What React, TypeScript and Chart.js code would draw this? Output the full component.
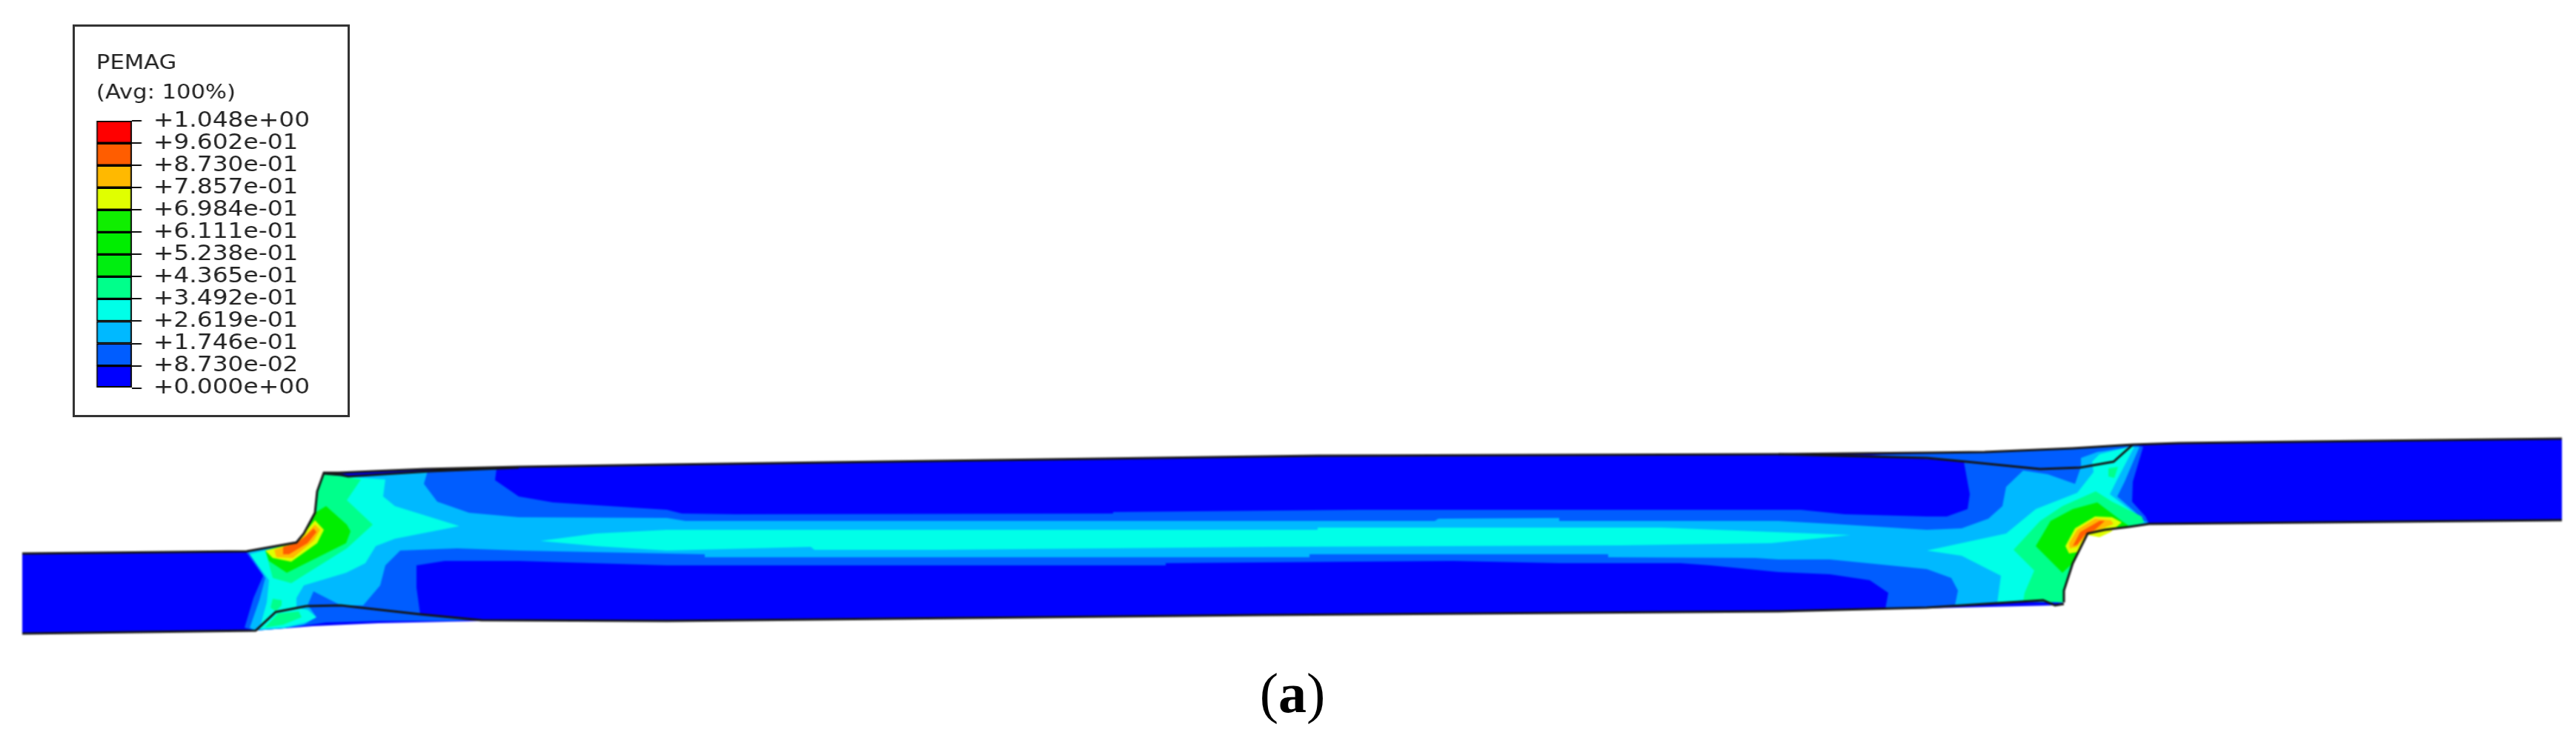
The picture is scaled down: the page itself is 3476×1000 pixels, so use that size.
import React, { useEffect, useRef } from "react";
import { Chart, registerables } from "chart.js";

Chart.register(...registerables);

type P = [number, number];

// legend
const levels = [0, 0.0873, 0.1746, 0.2619, 0.3492, 0.4365, 0.5238, 0.6111, 0.6984, 0.7857, 0.873, 0.9602, 1.048];
const levelLabels = ["+0.000e+00", "+8.730e-02", "+1.746e-01", "+2.619e-01", "+3.492e-01", "+4.365e-01", "+5.238e-01", "+6.111e-01", "+6.984e-01", "+7.857e-01", "+8.730e-01", "+9.602e-01", "+1.048e+00"];
const binColors = ["#0000ff", "#005dff", "#00b9ff", "#00ffe8", "#00ff8b", "#00ee10", "#00ee00", "#10ee00", "#e0ff00", "#ffb900", "#ff5d00", "#ff0000"];
const legendTitle = ["PEMAG", "(Avg: 100%)"];

// contour regions
const topEdge: P[] = [[30, 747], [333, 744], [400, 732], [410, 720], [425, 692], [428, 663], [437, 638], [457, 638], [574, 633], [700, 630], [900, 627], [1778, 615], [2400, 613], [2600, 611], [2678, 610], [2797, 605], [2878, 600], [2940, 598], [3457, 592]];
const bottomEdge: P[] = [[3457, 702], [2900, 707], [2873, 711], [2840, 715], [2817, 720], [2797, 760], [2785, 797], [2785, 813], [2770, 817], [2600, 821], [2400, 825], [1700, 830], [900, 838], [652, 838], [511, 841], [422, 845], [385, 848], [344, 851], [30, 855]];
const base: P[] = [...topEdge, ...bottomEdge];

const band1: P[] = [[670, 633], [668, 648], [700, 670], [746, 678], [900, 688], [920, 693], [992, 694], [1502, 693], [1502, 691], [1834, 688], [2430, 688], [2489, 694], [2600, 697], [2627, 697], [2655, 687], [2658, 667], [2650, 623], [2524, 614], [2678, 610], [2797, 605], [2878, 600], [2892, 603], [2878, 650], [2877, 677], [2895, 697], [2900, 707], [2873, 711], [2840, 715], [2817, 720], [2797, 760], [2785, 797], [2785, 813], [2757, 811], [2710, 814], [2544, 822], [2548, 800], [2523, 783], [2469, 775], [2400, 772], [2308, 763], [2267, 760], [2104, 760], [1961, 757], [1573, 760], [1573, 763], [900, 763], [700, 757], [600, 757], [562, 763], [562, 793], [567, 829], [650, 836], [607, 838], [513, 838], [440, 840], [420, 843], [383, 848], [344, 851], [330, 847], [342, 807], [355, 777], [332, 745], [400, 732], [410, 720], [425, 692], [428, 663], [437, 640], [470, 643], [580, 637]];

const band2: P[] = [[577, 636], [572, 653], [590, 677], [633, 692], [700, 698], [900, 699], [925, 703], [1936, 703], [1941, 700], [2104, 699], [2104, 703], [2400, 703], [2489, 708], [2600, 715], [2647, 713], [2683, 700], [2702, 683], [2707, 657], [2730, 635], [2763, 640], [2800, 653], [2808, 630], [2808, 618], [2830, 610], [2877, 603], [2887, 603], [2867, 650], [2857, 670], [2880, 690], [2893, 703], [2900, 707], [2873, 711], [2840, 715], [2817, 720], [2797, 760], [2785, 797], [2785, 813], [2757, 811], [2710, 814], [2638, 817], [2642, 797], [2633, 780], [2600, 768], [2469, 755], [2400, 755], [2369, 753], [2170, 752], [2170, 748], [1767, 748], [1767, 752], [951, 752], [951, 748], [700, 743], [617, 740], [540, 743], [520, 763], [513, 790], [490, 817], [460, 817], [423, 798], [415, 817], [420, 823], [427, 833], [410, 843], [383, 848], [344, 851], [337, 847], [350, 810], [358, 780], [335, 745], [400, 732], [410, 720], [425, 692], [428, 663], [437, 640], [470, 643]];

const cyanMid: P[] = [[729, 730], [804, 720], [900, 715], [1778, 715], [1778, 712], [2242, 712], [2369, 717], [2497, 722], [2390, 733], [2186, 736], [1716, 738], [1267, 742], [1099, 742], [1094, 738], [900, 743], [804, 737]];
const cyanLeft: P[] = [[437, 640], [490, 645], [520, 647], [517, 670], [533, 683], [620, 710], [533, 727], [507, 737], [493, 760], [467, 773], [410, 790], [400, 807], [400, 820], [415, 823], [427, 833], [413, 840], [383, 847], [350, 849], [360, 813], [363, 783], [337, 748], [400, 732], [410, 720], [425, 692], [428, 663]];
const cyanRight: P[] = [[2873, 603], [2880, 603], [2857, 647], [2847, 667], [2890, 700], [2893, 705], [2873, 711], [2840, 715], [2817, 720], [2797, 760], [2785, 797], [2785, 813], [2757, 811], [2695, 814], [2700, 777], [2647, 750], [2600, 743], [2707, 720], [2747, 687], [2803, 665], [2825, 637], [2823, 623], [2833, 613]];

const springLeft: P[] = [[437, 640], [487, 647], [468, 675], [503, 708], [468, 740], [393, 787], [368, 780], [358, 743], [400, 732], [410, 720], [425, 692], [428, 663]];
const springPatchA: P[] = [[368, 808], [380, 810], [380, 817], [372, 825], [365, 820]];
const springPatchB: P[] = [[375, 828], [403, 825], [407, 833], [382, 843], [357, 847]];
const springRight: P[] = [[2828, 663], [2850, 677], [2890, 697], [2893, 705], [2873, 711], [2840, 715], [2817, 720], [2797, 760], [2785, 797], [2785, 813], [2730, 812], [2732, 800], [2745, 770], [2717, 742], [2753, 703], [2783, 683]];
const springPatchC: P[] = [[2845, 632], [2858, 630], [2853, 645], [2845, 643]];

const greenLeft: P[] = [[425, 692], [440, 683], [468, 708], [473, 717], [467, 733], [387, 773], [363, 757], [358, 743], [400, 732], [410, 720]];
const greenRight: P[] = [[2830, 678], [2863, 703], [2873, 710], [2840, 715], [2817, 720], [2797, 760], [2783, 773], [2747, 737], [2767, 703], [2797, 687]];

const yellowLeft: P[] = [[425, 702], [437, 715], [428, 733], [393, 758], [368, 753], [358, 743], [400, 733], [410, 720]];
const yellowRight: P[] = [[2827, 697], [2850, 698], [2863, 705], [2848, 718], [2833, 725], [2817, 722], [2803, 745], [2792, 747], [2787, 737], [2800, 713]];
const orangeLeft: P[] = [[425, 708], [432, 715], [423, 730], [395, 753], [373, 752], [370, 742], [400, 733], [412, 722]];
const orangeRight: P[] = [[2827, 700], [2848, 702], [2852, 707], [2833, 715], [2817, 720], [2803, 738], [2793, 740], [2792, 733], [2803, 715]];
const hotLeft: P[] = [[423, 713], [427, 718], [415, 733], [390, 748], [382, 748], [382, 738], [400, 733], [413, 723]];
const hotRight: P[] = [[2833, 703], [2840, 703], [2827, 715], [2813, 722], [2803, 735], [2797, 737], [2807, 718]];

// black outlines
const lineTopLeft: P[] = topEdge.slice(0, 9);
const lineTopRight: P[] = topEdge.slice(8);
const lineBottomRight: P[] = bottomEdge.slice(0, 8);
const lineBottomMid: P[] = [[2785, 815], [2773, 817], [2757, 810], [2710, 813], [2600, 820], [2400, 825], [1700, 830], [900, 838], [650, 837], [567, 829], [460, 817], [413, 818], [372, 826], [345, 851], [30, 855]];
const lineInnerRight: P[] = [[2400, 613], [2600, 618], [2653, 623], [2753, 633], [2807, 631], [2852, 623], [2878, 600]];
const lineInnerLeft: P[] = [[437, 639], [460, 641], [470, 643], [580, 636], [700, 631]];

const regions: [P[], string][] = [
  [base, binColors[0]],
  [band1, binColors[1]],
  [band2, binColors[2]],
  [cyanMid, binColors[3]],
  [cyanLeft, binColors[3]],
  [cyanRight, binColors[3]],
  [springLeft, binColors[4]],
  [springPatchA, binColors[4]],
  [springPatchB, binColors[4]],
  [springRight, binColors[4]],
  [springPatchC, binColors[4]],
  [greenLeft, binColors[6]],
  [greenRight, binColors[6]],
  [yellowLeft, binColors[8]],
  [yellowRight, binColors[8]],
  [orangeLeft, binColors[9]],
  [orangeRight, binColors[9]],
  [hotLeft, binColors[10]],
  [hotRight, binColors[10]],
];
const outlines: P[][] = [lineTopLeft, lineTopRight, lineBottomRight, lineBottomMid, lineInnerRight, lineInnerLeft];

const toXY = (pts: P[]) => pts.map(([x, y]) => ({ x, y }));

export default function App() {
  const mainRef = useRef<HTMLCanvasElement>(null);
  const legendRef = useRef<HTMLCanvasElement>(null);

  useEffect(() => {
    document.body.style.margin = "0";
    const fills = regions.map(([pts, color]) => ({
      data: toXY(pts),
      backgroundColor: color,
      borderWidth: 0,
      pointRadius: 0,
      showLine: true,
      fill: "shape",
      tension: 0,
    }));
    const strokes = outlines.map((pts) => ({
      data: toXY(pts),
      borderColor: "#151515",
      borderWidth: 3,
      pointRadius: 0,
      showLine: true,
      fill: false,
      tension: 0,
    }));
    const all: any[] = [...fills, ...strokes];
    all.forEach((d, i) => (d.order = all.length - i));

    const main = new Chart(mainRef.current!, {
      type: "scatter",
      data: { datasets: all },
      options: {
        animation: false,
        responsive: false,
        layout: { padding: 0 },
        plugins: { legend: { display: false }, tooltip: { enabled: false } },
        scales: {
          x: { type: "linear", min: 0, max: 3476, display: false },
          y: { type: "linear", min: 0, max: 1000, reverse: true, display: false },
        },
      },
    } as any);

    const legend = new Chart(legendRef.current!, {
      type: "bar",
      data: {
        labels: ["PEMAG"],
        datasets: binColors.map((c, i) => ({
          data: [[levels[i], levels[i + 1]]],
          backgroundColor: c,
          borderColor: "#000",
          borderWidth: 2,
          borderSkipped: false,
          grouped: false,
          categoryPercentage: 1,
          barPercentage: 1,
        })),
      } as any,
      options: {
        animation: false,
        responsive: false,
        layout: { padding: { left: 17.6, top: 25.5, bottom: 6, right: 0 } },
        plugins: {
          legend: { display: false },
          tooltip: { enabled: false },
          title: {
            display: true,
            text: legendTitle,
            align: "start",
            color: "#222",
            padding: { top: 0, bottom: 16.5 },
            font: { family: "'DejaVu Sans'", size: 27, weight: "normal", lineHeight: 1.5 },
          },
        },
        scales: {
          x: { display: false },
          y: {
            position: "right",
            min: 0,
            max: 1.048,
            afterBuildTicks: (s: any) => {
              s.ticks = levels.map((value) => ({ value }));
            },
            afterFit: (s: any) => {
              s.width = 212;
            },
            border: { display: false },
            grid: { drawOnChartArea: false, drawTicks: true, tickLength: 11.5, color: "#111", lineWidth: 2 },
            ticks: {
              autoSkip: false,
              maxRotation: 0,
              padding: 14,
              color: "#222",
              font: { family: "'DejaVu Sans'", size: 29 },
              callback: (_v: any, i: number) => levelLabels[i],
            },
          },
        },
      },
    } as any);

    return () => {
      main.destroy();
      legend.destroy();
    };
  }, []);

  return (
    <div style={{ position: "absolute", left: 0, top: 0, width: 3476, height: 1000, overflow: "hidden", background: "#fff" }}>
      <canvas
        ref={mainRef}
        width={3476}
        height={1000}
        style={{ position: "absolute", left: 0, top: 0, width: 3476, height: 1000, filter: "blur(0.8px)" }}
      />
      <div
        style={{
          position: "absolute",
          left: 98,
          top: 33,
          width: 368,
          height: 524,
          border: "3px solid #333",
          background: "#fff",
        }}
      />
      <canvas
        ref={legendRef}
        width={272}
        height={515}
        style={{
          position: "absolute",
          left: 110,
          top: 40,
          width: 272,
          height: 515,
          transform: "scaleX(1.133)",
          transformOrigin: "0 0",
          filter: "blur(0.5px)",
        }}
      />
      <div
        style={{
          position: "absolute",
          left: 1644,
          top: 890,
          width: 200,
          textAlign: "center",
          fontFamily: "'Liberation Serif'",
          fontSize: 76,
          lineHeight: "90px",
          color: "#000",
        }}
      >
        (<b>a</b>)
      </div>
    </div>
  );
}
